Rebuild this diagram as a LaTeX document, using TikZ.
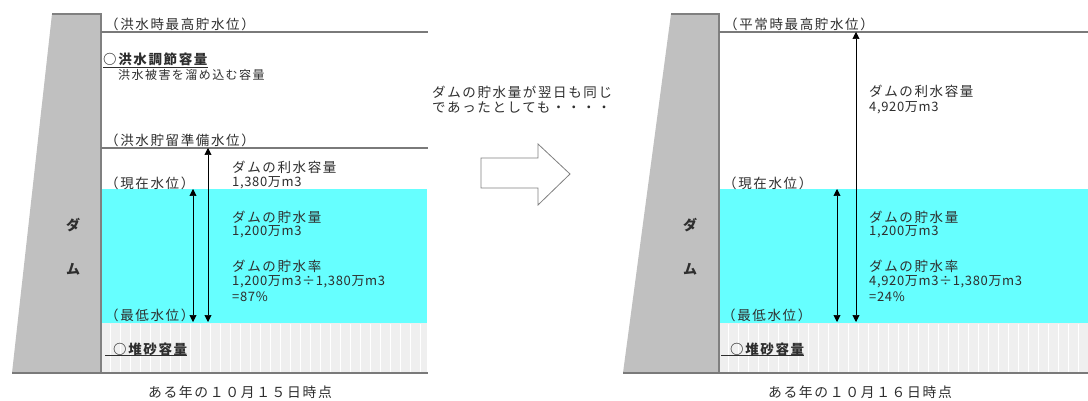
\documentclass[tikz,border=0pt]{standalone}
\usepackage{fontspec}
\setmainfont{Noto Sans CJK JP}[LetterSpace=12]
\newfontfamily\numfnt{Noto Sans CJK JP}[LetterSpace=5]
\usetikzlibrary{arrows.meta}
\definecolor{txt}{HTML}{2E2E2E}
\definecolor{water}{HTML}{66FFFF}
\definecolor{sand}{HTML}{EFEFEF}
\definecolor{damfill}{HTML}{C0C0C0}
\definecolor{damedge}{HTML}{808080}
\definecolor{lvl}{HTML}{7A7A7A}
\tikzset{
  lbl/.style={anchor=west,inner sep=0pt,text=txt,font=\fontsize{13.5}{15}\selectfont},
  numlbl/.style={anchor=west,inner sep=0pt,text=txt,font=\numfnt\fontsize{13}{15}\selectfont},
  boldlbl/.style={lbl,font=\fontsize{13.5}{15}\selectfont\bfseries},
  small/.style={anchor=west,inner sep=0pt,text=txt,font=\fontsize{12}{14}\selectfont},
  captxt/.style={anchor=center,inner sep=0pt,text=txt,font=\fontsize{13.8}{16}\selectfont},
  damtxt/.style={anchor=center,inner sep=0pt,text=txt,font=\fontsize{14}{16}\selectfont\bfseries},
  level/.style={draw=lvl,line width=1.3pt},
  dbl/.style={draw=black,line width=0.6pt,{Triangle[width=7pt,length=7pt]}-{Triangle[width=7pt,length=7pt]}},
  uline/.style={draw=txt,line width=0.9pt},
}
\begin{document}
\begin{tikzpicture}[x=1pt,y=-1pt]
\useasboundingbox (0,0) rectangle (1088,401);
\fill[white] (0,0) rectangle (1088,401);

% ===== Left panel =====
\fill[water] (101,189) rectangle (427,323);
\fill[sand] (101,323) rectangle (427,373);
\foreach \x in {110,120,...,420} \draw[white,line width=0.8pt] (\x,324) -- (\x,372);
\fill[damfill] (52,14) -- (101,14) -- (101,373) -- (12,373) -- cycle;
\draw[damedge,line width=1.2pt] (52,14) -- (101,14) -- (101,373);
\draw[level] (101,32) -- (428,32);
\draw[level] (101,148) -- (428,148);
\draw[level] (12,373) -- (428,373);

\node[damtxt] (dA) at (73,225) {ダ};
\node[damtxt] (dB) at (73,269) {ム};

\node[lbl] (a1) at (105,24) {（洪水時最高貯水位）};
\node[boldlbl] (a2) at (103,59) {○洪水調節容量};
\draw[uline] ([yshift=-2pt]a2.south west) -- ([yshift=-2pt]a2.south east);
\node[small] (a3) at (118,75) {洪水被害を溜め込む容量};
\node[lbl] (a4) at (105,140) {（洪水貯留準備水位）};
\node[lbl] (a5) at (105,183) {（現在水位）};
\node[lbl] (a6) at (105,315) {（最低水位）};
\node[boldlbl] (a7) at (113,349) {○堆砂容量};
\coordinate (a7u) at (105,355);
\draw[uline] (a7u) -- (a7u -| a7.east);

\node[lbl] (b1) at (232,167) {ダムの利水容量};
\node[numlbl] (b2) at (232,183) {1,380万m3};
\node[lbl] (b3) at (232,217) {ダムの貯水量};
\node[numlbl] (b4) at (232,232) {1,200万m3};
\node[lbl] (b5) at (232,266) {ダムの貯水率};
\node[numlbl] (b6) at (232,282) {1,200万m3÷1,380万m3};
\node[numlbl] (b7) at (232,297) {=87\%};

\coordinate (p1t) at (193,189);
\coordinate (p1b) at (193,322);
\coordinate (p2t) at (208,148);
\coordinate (p2b) at (208,322);
\draw[dbl] (p1t) -- (p1b);
\draw[dbl] (p2t) -- (p2b);

\node[captxt] (c1) at (240,392) {ある年の１０月１５日時点};

% ===== Middle =====
\node[lbl] (m1) at (432,92) {ダムの貯水量が翌日も同じ};
\node[lbl] (m2) at (432,107) {であったとしても・・・・};
\draw[draw=damedge,fill=white,line width=0.8pt]
  (481,158) -- (538,158) -- (538,144) -- (570,174) -- (538,205) -- (538,188) -- (481,188) -- cycle;

% ===== Right panel =====
\fill[water] (719,189) rectangle (1088,323);
\fill[sand] (719,323) rectangle (1088,373);
\foreach \x in {728,738,...,1088} \draw[white,line width=0.8pt] (\x,324) -- (\x,372);
\fill[damfill] (671,14) -- (719,14) -- (719,373) -- (623,373) -- cycle;
\draw[damedge,line width=1.2pt] (671,14) -- (719,14) -- (719,373);
\draw[level] (719,32) -- (1088,32);
\draw[level] (623,373) -- (1088,373);

\node[damtxt] (dC) at (690,225) {ダ};
\node[damtxt] (dD) at (690,269) {ム};

\node[lbl] (r1) at (724,24) {（平常時最高貯水位）};
\node[lbl] (r2) at (723,183) {（現在水位）};
\node[lbl] (r3) at (722,315) {（最低水位）};
\node[boldlbl] (r4) at (730,349) {○堆砂容量};
\coordinate (r4u) at (721,355);
\draw[uline] (r4u) -- (r4u -| r4.east);

\node[lbl] (s1) at (869,91) {ダムの利水容量};
\node[numlbl] (s2) at (869,108) {4,920万m3};
\node[lbl] (s3) at (869,217) {ダムの貯水量};
\node[numlbl] (s4) at (869,232) {1,200万m3};
\node[lbl] (s5) at (869,266) {ダムの貯水率};
\node[numlbl] (s6) at (869,282) {4,920万m3÷1,380万m3};
\node[numlbl] (s7) at (869,297) {=24\%};

\coordinate (q1t) at (837,189);
\coordinate (q1b) at (837,322);
\coordinate (q2t) at (856,32);
\coordinate (q2b) at (856,322);
\draw[dbl] (q1t) -- (q1b);
\draw[dbl] (q2t) -- (q2b);

\node[captxt] (c2) at (860,392) {ある年の１０月１６日時点};
\end{tikzpicture}
\end{document}
